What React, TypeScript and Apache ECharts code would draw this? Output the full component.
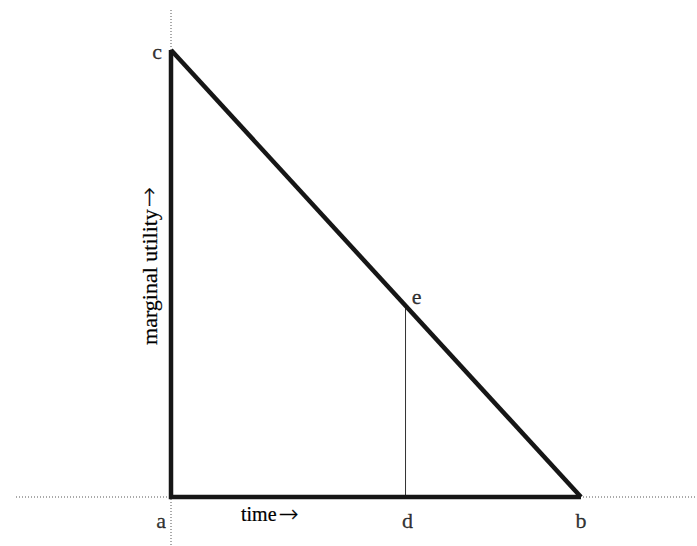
import React, { useEffect, useRef } from "react";
import * as echarts from "echarts";

// Points of the diagram (data coordinates: time on x, marginal utility on y)
const pointNames = ["a", "b", "c", "d", "e"];
const pointX = [0, 1, 0, 0.572, 0.572];
const pointY = [0, 0, 1, 0, 0.428];
// Thick frame: c -> a -> b, and the diagonal c -> b
const framePath = ["c", "a", "b"];
const diagonalPath = ["c", "b"];
const dropPath = ["e", "d"];
const xAxisTitle = "time";
const yAxisTitle = "marginal utility";
const arrow = "\u2192";

const W = 697;
const H = 546;
const X0 = 171, X1 = 581; // pixel of x=0, x=1
const Y0 = 497, Y1 = 50; // pixel of y=0, y=1
const xMin = -X0 / (X1 - X0);
const xMax = (W - X0) / (X1 - X0);
const yMin = -(H - Y0) / (Y0 - Y1);
const yMax = Y0 / (Y0 - Y1);

const pt = (n: string) => {
  const i = pointNames.indexOf(n);
  return [pointX[i], pointY[i]];
};

export default function App() {
  const ref = useRef<HTMLDivElement>(null);
  useEffect(() => {
    if (!ref.current) return;
    const chart = echarts.init(ref.current, null, { renderer: "svg" });
    const font = "Liberation Serif";
    const vTop = (Y0 - 10) / (Y0 - Y1);
    const hLeft = -(X0 - 16) / (X1 - X0);
    const labelOffsets: Record<string, number[]> = {
      a: [-10, 23],
      b: [0, 23],
      c: [-14, 1],
      d: [2, 23],
      e: [11, -9],
    };
    const arrowRich = {
      arr: { fontFamily: "DejaVu Sans", fontSize: 24, fontWeight: 200, color: "#222", padding: [0, 0, 0, 2] },
    };
    chart.setOption({
      animation: false,
      grid: { left: 0, top: 0, width: W, height: H, containLabel: false },
      xAxis: { type: "value", min: xMin, max: xMax, show: false },
      yAxis: { type: "value", min: yMin, max: yMax, show: false },
      series: [
        {
          type: "line",
          data: [[0, vTop], [0, yMin]],
          symbol: "none",
          lineStyle: { color: "#555", width: 1, type: [1, 2] },
          z: 1,
        },
        {
          type: "line",
          data: [[hLeft, 0], [xMax, 0]],
          symbol: "none",
          lineStyle: { color: "#555", width: 1, type: [1, 2] },
          z: 1,
        },
        {
          type: "line",
          data: dropPath.map(pt),
          symbol: "none",
          lineStyle: { color: "#333", width: 1 },
          z: 2,
        },
        {
          type: "line",
          data: framePath.map(pt),
          symbol: "none",
          lineStyle: { color: "#161616", width: 4.5, join: "miter", cap: "butt" },
          z: 3,
        },
        {
          type: "line",
          data: diagonalPath.map(pt),
          symbol: "none",
          lineStyle: { color: "#161616", width: 4.5, cap: "butt" },
          z: 3,
        },
        {
          type: "scatter",
          symbol: "circle",
          symbolSize: 1,
          itemStyle: { color: "rgba(0,0,0,0)" },
          z: 4,
          label: {
            show: true,
            position: "inside",
            formatter: (p: any) => p.name,
            color: "#000",
            fontFamily: font,
            fontSize: 22,
            textBorderColor: "#000",
            textBorderWidth: 0.3,
          },
          data: pointNames.map((n, i) => ({
            name: n,
            value: [pointX[i], pointY[i]],
            label: { offset: labelOffsets[n] },
          })),
        },
      ],
      graphic: [
        {
          type: "text",
          x: 241,
          y: 514,
          style: {
            text: `${xAxisTitle}{arr|${arrow}}`,
            font: `20px ${font}`,
            fill: "#000",
            stroke: "#000",
            lineWidth: 0.2,
            verticalAlign: "middle",
            textAlign: "left",
            rich: arrowRich,
          },
        },
        {
          type: "text",
          x: 149,
          y: 266,
          rotation: Math.PI / 2,
          style: {
            text: `${yAxisTitle}{arr|${arrow}}`,
            font: `22px ${font}`,
            fill: "#000",
            stroke: "#000",
            lineWidth: 0.2,
            verticalAlign: "middle",
            textAlign: "center",
            rich: arrowRich,
          },
        },
      ],
    });
    return () => chart.dispose();
  }, []);
  return (
    <div
      ref={ref}
      style={{ position: "fixed", left: 0, top: 0, width: W, height: H, background: "#fff" }}
    />
  );
}
